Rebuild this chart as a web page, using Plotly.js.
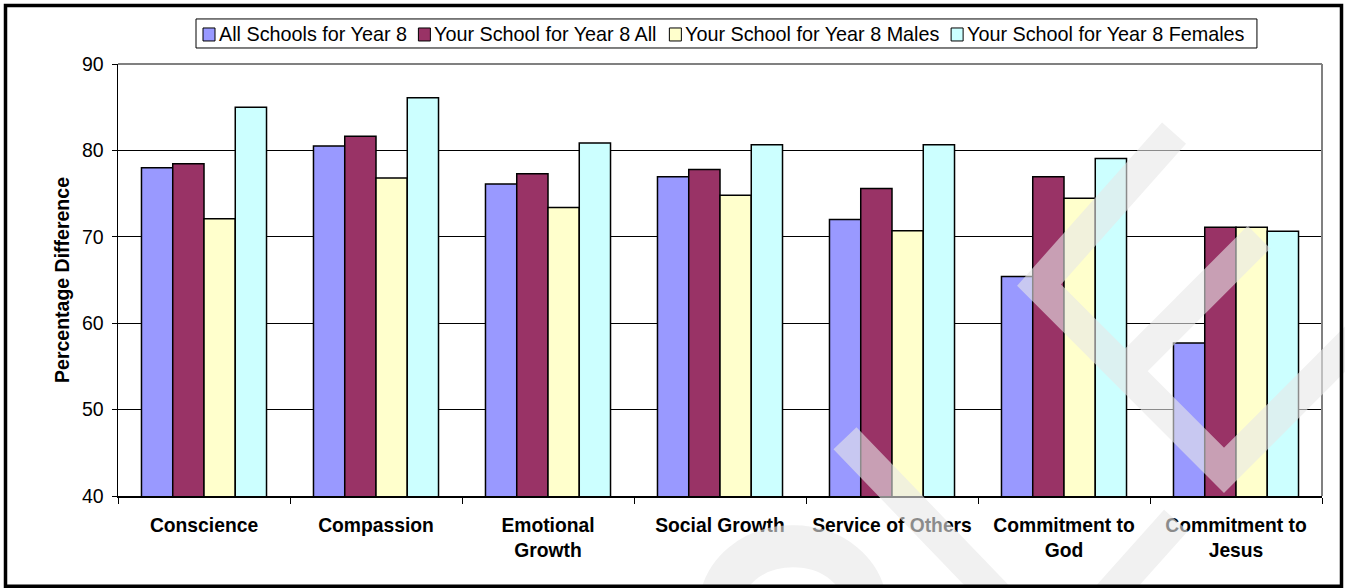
<!DOCTYPE html>
<html>
<head>
<meta charset="utf-8">
<script src="https://cdn.plot.ly/plotly-3.0.1.min.js"></script>
<style>
html,body{margin:0;padding:0;background:#fff;}
#chart{width:1345px;height:588px;}
</style>
</head>
<body>
<div id="chart"></div>
<script>
// ---- data ----
const categories = ["Conscience", "Compassion", "Emotional<br>Growth", "Social Growth", "Service of Others", "Commitment to<br>God", "Commitment to<br>Jesus"];
const seriesNames = ["All Schools for Year 8", "Your School for Year 8 All", "Your School for Year 8 Males", "Your School for Year 8 Females"];
const allSchools = [78.0, 80.5, 76.1, 76.95, 72.0, 65.4, 57.7];
const yourSchoolAll = [78.45, 81.65, 77.3, 77.8, 75.6, 76.95, 71.1];
const yourSchoolMales = [72.1, 76.8, 73.4, 74.8, 70.7, 74.45, 71.1];
const yourSchoolFemales = [85.0, 86.1, 80.85, 80.65, 80.65, 79.05, 70.65];
const yTicks = [40, 50, 60, 70, 80, 90];

const colors = ["#9999FF", "#993366", "#FFFFCC", "#CCFFFF"];
const values = [allSchools, yourSchoolAll, yourSchoolMales, yourSchoolFemales];
const FONT = "Liberation Sans, Arial, sans-serif";

const traces = values.map((v, i) => ({
  type: "bar",
  name: seriesNames[i],
  x: categories,
  y: v,
  marker: {color: colors[i], line: {color: "#000", width: 1.5}},
  hoverinfo: "none",
  showlegend: false
}));

// plot area in pixels (for decorations only)
const L = 118, R = 1322, T = 64, B = 495.7;
const px = x => (x - L) / (R - L);
const py = y => (B - y) / (B - T);
const P = (x, y) => px(x).toFixed(4) + "," + py(y).toFixed(4);

// ---- legend drawn as shapes + annotations (Excel-style compact legend) ----
const LEG_FONT = 19.8;
const canvas = document.createElement("canvas").getContext("2d");
canvas.font = LEG_FONT + "px 'Liberation Sans', Arial, sans-serif";
const legLeft = 196, legTop = 19, legBottom = 48, legMidY = 34.5;
const legShapes = [], legAnn = [];
let cx = legLeft + 7;
seriesNames.forEach((name, i) => {
  legShapes.push({type: "rect", xref: "paper", yref: "paper",
    x0: px(cx), x1: px(cx + 12), y0: py(legMidY - 6.5), y1: py(legMidY + 6.5),
    fillcolor: colors[i], line: {color: "#000", width: 1}, layer: "above"});
  legAnn.push({xref: "paper", yref: "paper", x: px(cx + 15), y: py(legMidY), xanchor: "left", yanchor: "middle",
    text: name, showarrow: false, font: {size: LEG_FONT, family: FONT, color: "#000"}, borderpad: 0});
  cx += 12 + 4 + canvas.measureText(name).width + 11;
});
const legRight = cx - 11 + 12;
legShapes.unshift({type: "rect", xref: "paper", yref: "paper",
  x0: px(legLeft), x1: px(legRight), y0: py(legBottom), y1: py(legTop),
  fillcolor: "#fff", line: {color: "#000", width: 1}, layer: "above"});

const watermark =
  "M" + P(1174,133) + " L" + P(1039,285) + " L" + P(1224,470) + " L" + P(1360,334) +
  " M" + P(1259,237) + " L" + P(1125,371) +
  " M" + P(845,438) + " L" + P(1005,604) +
  " M" + P(1176,520) + " L" + P(1100,605);
const watermarkArc =
  "M" + P(719,615) + " C" + P(719,523) + " " + P(867,523) + " " + P(867,615);

const layout = {
  width: 1345, height: 588,
  margin: {l: L, r: 1345 - R, t: T, b: 588 - B, pad: 0},
  paper_bgcolor: "#fff", plot_bgcolor: "#fff",
  font: {family: FONT, color: "#000", size: 19},
  barmode: "group", bargap: 0.273, bargroupgap: 0,
  showlegend: false,
  xaxis: {
    type: "category", showline: true, linecolor: "#000", linewidth: 1.5,
    ticks: "outside", tickson: "boundaries", ticklen: 6, tickcolor: "#000", tickwidth: 1,
    tickfont: {size: 19.3, family: FONT, weight: "bold"}, ticklabelstandoff: 11,
    showgrid: false, fixedrange: true, automargin: false
  },
  yaxis: {
    range: [40, 90], tickvals: yTicks, ticktext: yTicks.map(String),
    showline: true, linecolor: "#000", linewidth: 1.5,
    ticks: "outside", ticklen: 5, tickcolor: "#000", tickwidth: 1,
    showgrid: true, gridcolor: "#000", gridwidth: 1, zeroline: false,
    tickfont: {size: 19.5}, ticklabelstandoff: 4,
    title: {text: "Percentage Difference", font: {size: 19.5, weight: "bold"}, standoff: 7},
    fixedrange: true, automargin: false
  },
  annotations: legAnn,
  shapes: [
    {type: "line", xref: "paper", yref: "paper", x0: 0, x1: 1, y0: 1, y1: 1, line: {color: "#808080", width: 2}, layer: "above"},
    {type: "line", xref: "paper", yref: "paper", x0: 1, x1: 1, y0: 0, y1: 1, line: {color: "#808080", width: 2}, layer: "above"},
    {type: "path", xref: "paper", yref: "paper", path: watermark, line: {color: "rgb(232,232,232)", width: 32}, fillcolor: "rgba(0,0,0,0)", opacity: 0.6, layer: "above"},
    {type: "path", xref: "paper", yref: "paper", path: watermarkArc, line: {color: "rgb(232,232,232)", width: 42}, fillcolor: "rgba(0,0,0,0)", opacity: 0.6, layer: "above"},
    ...legShapes,
    {type: "rect", xref: "paper", yref: "paper", x0: px(5.5), x1: px(1341.5), y0: py(5.5), y1: py(586), line: {color: "#000", width: 3.5}, layer: "above"}
  ]
};

Plotly.newPlot("chart", traces, layout, {displayModeBar: false, staticPlot: true});
</script>
</body>
</html>
